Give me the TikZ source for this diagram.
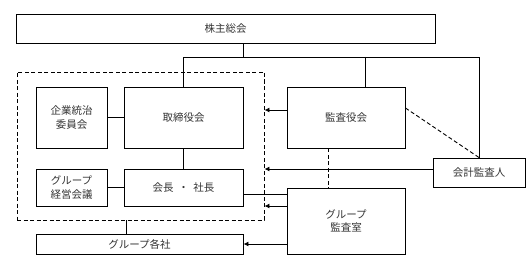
\documentclass[tikz,border=0pt]{standalone}
\usepackage{fontspec}
\setmainfont{Noto Sans CJK JP}
\usetikzlibrary{arrows.meta,positioning,calc}

\tikzset{
  orgbox/.style={draw, line width=0.9pt, align=center, inner sep=0pt,
    font=\fontsize{10.5}{13.5}\selectfont, text=black!80},
  link/.style={line width=0.9pt},
  arr/.style={link, -{Latex[length=5pt,width=5pt]}},
  dashlink/.style={line width=0.9pt, dash pattern=on 4pt off 2.5pt},
}

\begin{document}
\begin{tikzpicture}[x=1pt,y=-1pt]
\useasboundingbox (0,0) rectangle (532,267);

% boxes
\node[orgbox, minimum width=419pt, minimum height=29pt] (soukai) at (225.5,28.5) {株主総会};
\node[draw, dashlink, minimum width=247pt, minimum height=148pt] (gov) at (140.5,146) {};
\node[orgbox, minimum width=71pt, minimum height=61pt] (iinkai) at (71.5,117.5) {企業統治\\委員会};
\node[orgbox, minimum width=119pt, minimum height=61pt] (torishimari) at (183.5,117.5) {取締役会};
\node[orgbox, minimum width=71pt, minimum height=37pt] (keiei) at (71.5,187.5) {グループ\\経営会議};
\node[orgbox, minimum width=119pt, minimum height=37pt] (shacho) at (183.5,187.5) {会長\ \ ・\ \ 社長};
\node[orgbox, minimum width=207pt, minimum height=20pt] (kakusha) at (139.5,244) {グループ各社};
\node[orgbox, minimum width=118pt, minimum height=61pt] (kansa) at (346,117.5) {監査役会};
\node[orgbox, minimum width=92pt, minimum height=29pt] (kaikei) at (479,172.5) {会計監査人};
\node[orgbox, minimum width=118pt, minimum height=66pt] (kansashitsu) at (346,221) {グループ\\監査室};

% lines from the shareholders meeting
\coordinate (bus) at (243,57);
\draw[link] (soukai.south -| bus) -- (bus);
\draw[link] (torishimari.north) -- (torishimari.north |- bus) -- (kaikei.north |- bus) -- (kaikei.north);
\draw[link] ([xshift=19pt]kansa.north |- bus) -- ([xshift=19pt]kansa.north);

% inside the governance frame
\draw[link] (iinkai) -- (torishimari);
\draw[link] (keiei) -- (shacho);
\draw[link] (torishimari) -- (shacho);
\draw[link] ([xshift=-14.5pt]gov.south) -- ([xshift=-14.5pt]gov.south |- kakusha.north);

% audit arrows
\draw[arr] ([yshift=7.5pt]kansa.west) -- ([yshift=7.5pt]kansa.west -| gov.east);
\draw[arr] ([yshift=3.5pt]kaikei.west) -- ([yshift=3.5pt]kaikei.west -| gov.east);
\draw[arr] ([yshift=15pt]kansashitsu.west) -- ([yshift=15pt]kansashitsu.west -| gov.east);
\draw[link] ([yshift=-6.5pt]shacho.east) -- ([yshift=-6.5pt]shacho.east -| kansashitsu.west);
\draw[arr] ([yshift=-23pt]kansashitsu.west) -- ([yshift=-23pt]kansashitsu.west -| kakusha.east);

% dashed cooperation lines
\draw[dashlink] ([yshift=9.5pt]kansa.east) -- (kaikei.north);
\draw[dashlink] ([xshift=-18pt]kansa.south) -- ([xshift=-18pt]kansa.south |- kansashitsu.north);
\end{tikzpicture}
\end{document}
